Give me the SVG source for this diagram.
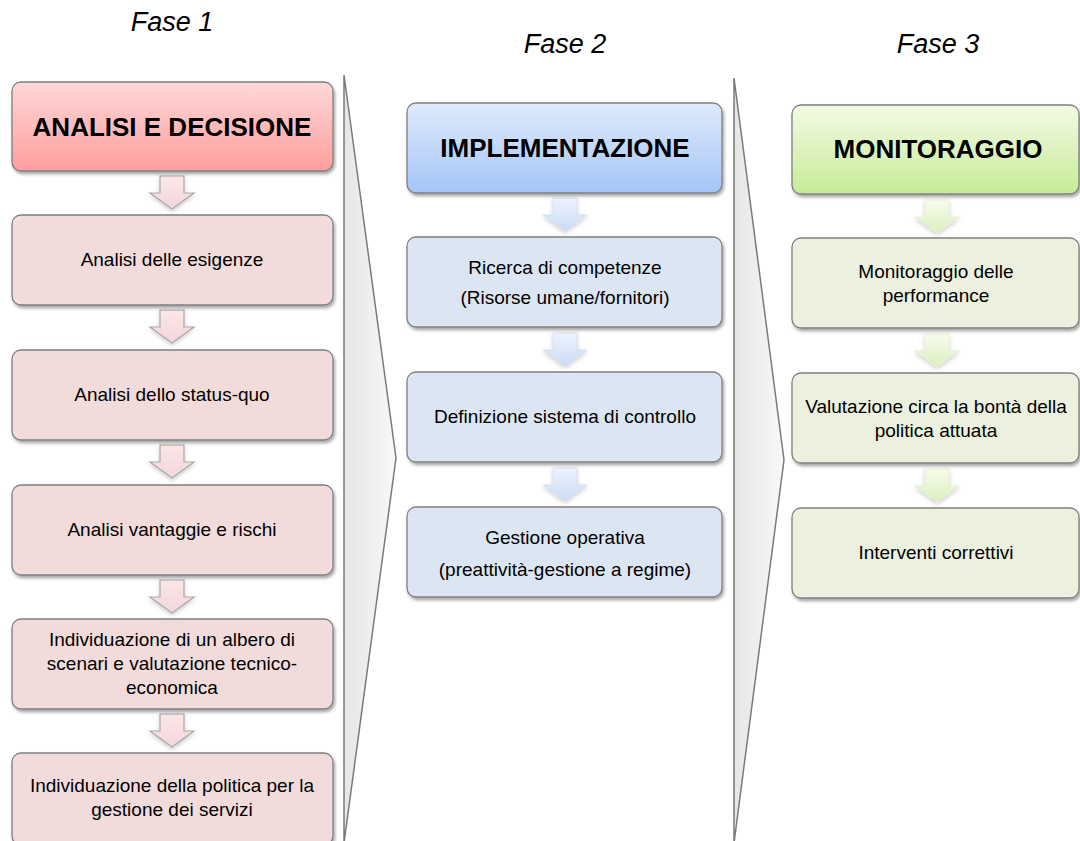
<svg xmlns="http://www.w3.org/2000/svg" width="1080" height="841" viewBox="0 0 1080 841">
  <defs>
    <linearGradient id="hdrRed" x1="0" y1="0" x2="0" y2="1">
      <stop offset="0" stop-color="#ffd8d8"/>
      <stop offset="1" stop-color="#ff9d9d"/>
    </linearGradient>
    <linearGradient id="hdrBlue" x1="0" y1="0" x2="0" y2="1">
      <stop offset="0" stop-color="#dfeafc"/>
      <stop offset="1" stop-color="#a5c5f7"/>
    </linearGradient>
    <linearGradient id="hdrGreen" x1="0" y1="0" x2="0" y2="1">
      <stop offset="0" stop-color="#f3fbe4"/>
      <stop offset="1" stop-color="#c7eb98"/>
    </linearGradient>
    <linearGradient id="arrRed" x1="0" y1="0" x2="0" y2="1">
      <stop offset="0" stop-color="#fde6e6"/>
      <stop offset="1" stop-color="#f2d6de"/>
    </linearGradient>
    <linearGradient id="arrBlue" x1="0" y1="0" x2="0" y2="1">
      <stop offset="0" stop-color="#eef4fd"/>
      <stop offset="1" stop-color="#c9dbf6"/>
    </linearGradient>
    <linearGradient id="arrGreen" x1="0" y1="0" x2="0" y2="1">
      <stop offset="0" stop-color="#f7fcec"/>
      <stop offset="1" stop-color="#dcefbf"/>
    </linearGradient>
    <linearGradient id="sepFill" x1="0" y1="0" x2="1" y2="0">
      <stop offset="0" stop-color="#e6e6e6"/>
      <stop offset="1" stop-color="#f8f8f8"/>
    </linearGradient>
    <filter id="shadow" x="-10%" y="-10%" width="125%" height="130%">
      <feDropShadow dx="1.5" dy="2.5" stdDeviation="1.8" flood-color="#000" flood-opacity="0.35"/>
    </filter>
    <filter id="softShadow" x="-30%" y="-30%" width="160%" height="170%">
      <feDropShadow dx="0" dy="2" stdDeviation="2" flood-color="#000" flood-opacity="0.2"/>
    </filter>
    <!-- block arrow pointing down, origin at centre of the top edge -->
    <path id="downArrow" d="M-12,0 H12 V17 H22 L0,33 L-22,17 H-12 Z"/>
  </defs>
  <style>
    .phase { font-family: "Liberation Sans", Arial, sans-serif; font-style: italic; font-size: 27px; fill: #000; text-anchor: middle; }
    .hdr { font-family: "Liberation Sans", Arial, sans-serif; font-weight: bold; font-size: 26px; fill: #000; text-anchor: middle; }
    .txt { font-family: "Liberation Sans", Arial, sans-serif; font-size: 19px; fill: #000; text-anchor: middle; }
    .box { stroke: #7f7f7f; stroke-width: 1.3; filter: url(#shadow); }
    .b1 { fill: #f2dcdb; }
    .b2 { fill: #dce6f2; }
    .b3 { fill: #ebf1de; }
    .sep { fill: url(#sepFill); stroke: #7a7a7a; stroke-width: 1.5; stroke-linejoin: miter; }
    .arr1 { fill: url(#arrRed); stroke: #a8a8a8; stroke-width: 1.2; filter: url(#softShadow); }
    .arr2 { fill: url(#arrBlue); stroke: #d2dcec; stroke-width: 0.8; filter: url(#softShadow); }
    .arr3 { fill: url(#arrGreen); stroke: #e3efcf; stroke-width: 0.8; filter: url(#softShadow); }
  </style>

  <!-- phase titles -->
  <text class="phase" x="172" y="31">Fase 1</text>
  <text class="phase" x="565" y="53">Fase 2</text>
  <text class="phase" x="938" y="53">Fase 3</text>

  <!-- chevron separators between phases -->
  <g id="separators">
    <polygon class="sep" points="344,75 396,458 344,843"/>
    <polygon class="sep" points="734,78 784,460 734,843"/>
  </g>

  <!-- connectors -->
  <g id="connectors">
    <use href="#downArrow" class="arr1" x="172" y="176"/>
    <use href="#downArrow" class="arr1" x="172" y="310"/>
    <use href="#downArrow" class="arr1" x="172" y="445"/>
    <use href="#downArrow" class="arr1" x="172" y="580"/>
    <use href="#downArrow" class="arr1" x="172" y="714"/>
    <use href="#downArrow" class="arr2" x="565" y="198"/>
    <use href="#downArrow" class="arr2" x="565" y="333"/>
    <use href="#downArrow" class="arr2" x="565" y="468"/>
    <use href="#downArrow" class="arr3" x="937" y="200"/>
    <use href="#downArrow" class="arr3" x="937" y="334"/>
    <use href="#downArrow" class="arr3" x="937" y="469"/>
  </g>

  <!-- phase 1 -->
  <g id="analisi-decisione">
    <rect class="box" x="12" y="82" width="321" height="89" rx="9" fill="url(#hdrRed)"/>
    <text class="hdr" x="172" y="136">ANALISI E DECISIONE</text>
  </g>
  <g id="esigenze">
    <rect class="box b1" x="12" y="215" width="321" height="90" rx="9"/>
    <text class="txt" x="172" y="266">Analisi delle esigenze</text>
  </g>
  <g id="status-quo">
    <rect class="box b1" x="12" y="350" width="321" height="90" rx="9"/>
    <text class="txt" x="172" y="401">Analisi dello status-quo</text>
  </g>
  <g id="vantaggi-rischi">
    <rect class="box b1" x="12" y="485" width="321" height="90" rx="9"/>
    <text class="txt" x="172" y="536">Analisi vantaggie e rischi</text>
  </g>
  <g id="albero-scenari">
    <rect class="box b1" x="12" y="619" width="321" height="90" rx="9"/>
    <text class="txt" x="172" y="646">Individuazione di un albero di</text>
    <text class="txt" x="172" y="670">scenari e valutazione tecnico-</text>
    <text class="txt" x="172" y="694">economica</text>
  </g>
  <g id="politica-gestione">
    <rect class="box b1" x="12" y="753" width="321" height="92" rx="9"/>
    <text class="txt" x="172" y="792">Individuazione della politica per la</text>
    <text class="txt" x="172" y="816">gestione dei servizi</text>
  </g>

  <!-- phase 2 -->
  <g id="implementazione">
    <rect class="box" x="407" y="103" width="315" height="90" rx="9" fill="url(#hdrBlue)"/>
    <text class="hdr" x="565" y="157">IMPLEMENTAZIONE</text>
  </g>
  <g id="competenze">
    <rect class="box b2" x="407" y="237" width="315" height="90" rx="9"/>
    <text class="txt" x="565" y="274">Ricerca di competenze</text>
    <text class="txt" x="565" y="304">(Risorse umane/fornitori)</text>
  </g>
  <g id="controllo">
    <rect class="box b2" x="407" y="372" width="315" height="90" rx="9"/>
    <text class="txt" x="565" y="423">Definizione sistema di controllo</text>
  </g>
  <g id="gestione-operativa">
    <rect class="box b2" x="407" y="507" width="315" height="90" rx="9"/>
    <text class="txt" x="565" y="544">Gestione operativa</text>
    <text class="txt" x="565" y="576">(preattività-gestione a regime)</text>
  </g>

  <!-- phase 3 -->
  <g id="monitoraggio">
    <rect class="box" x="792" y="105" width="287" height="89" rx="9" fill="url(#hdrGreen)"/>
    <text class="hdr" x="938" y="158">MONITORAGGIO</text>
  </g>
  <g id="performance">
    <rect class="box b3" x="792" y="238" width="287" height="90" rx="9"/>
    <text class="txt" x="936" y="278">Monitoraggio delle</text>
    <text class="txt" x="936" y="302">performance</text>
  </g>
  <g id="valutazione">
    <rect class="box b3" x="792" y="373" width="287" height="90" rx="9"/>
    <text class="txt" x="936" y="413">Valutazione circa la bontà della</text>
    <text class="txt" x="936" y="437">politica attuata</text>
  </g>
  <g id="correttivi">
    <rect class="box b3" x="792" y="508" width="287" height="90" rx="9"/>
    <text class="txt" x="936" y="559">Interventi correttivi</text>
  </g>
</svg>
